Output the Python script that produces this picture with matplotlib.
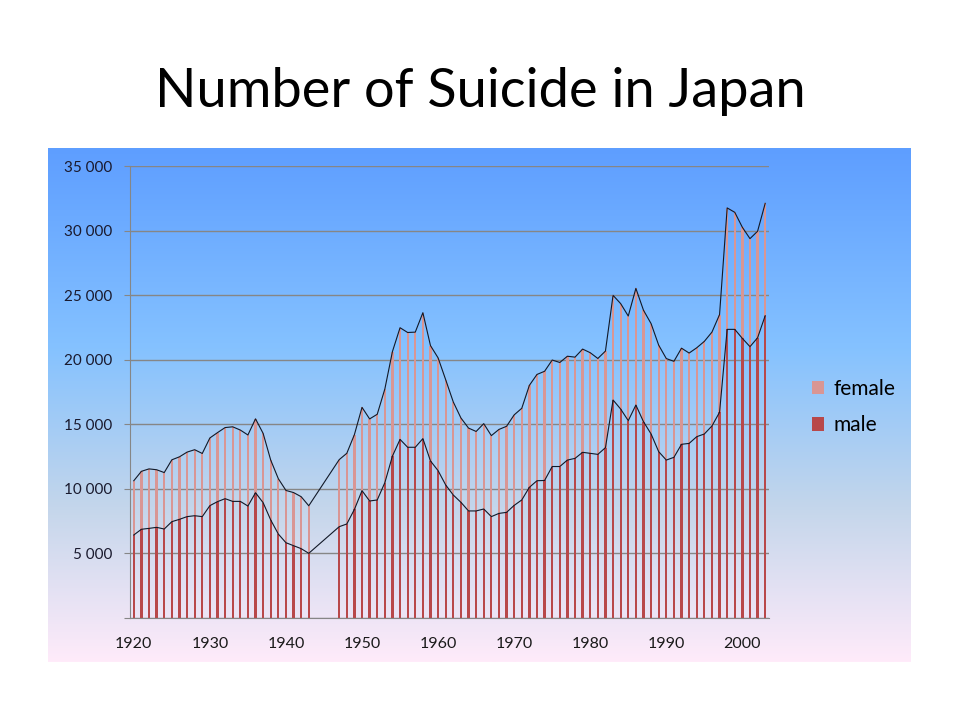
import numpy as np
import matplotlib
matplotlib.use("Agg")
import matplotlib.pyplot as plt
from matplotlib.colors import LinearSegmentedColormap
from matplotlib.ticker import FuncFormatter

plt.rcParams['font.family'] = ['Lato', 'DejaVu Sans']

# years with data (no data for 1944-1946)
years = list(range(1920, 1944)) + list(range(1947, 2004))

# total number of suicides
total = [10630, 11358, 11546, 11480, 11261, 12249, 12480, 12845, 13032, 12740,
         13942, 14353, 14746, 14805, 14554, 14172, 15423, 14295, 12223, 10785,
         9877, 9713, 9393, 8690,
         12262, 12753, 14201,
         16311, 15415, 15776, 17731, 20635, 22477, 22107, 22136, 23641, 21090,
         20143, 18446, 16724, 15490, 14707, 14444, 15050, 14121, 14601, 14844,
         15728, 16239, 18015, 18859, 19105, 19975, 19786, 20269, 20199, 20823,
         20542, 20096, 20668, 24985, 24344, 23383, 25524, 23831, 22795, 21125,
         20088, 19875, 20893, 20516, 20923, 21420, 22138, 23494, 31755, 31413,
         30251, 29375, 29949, 32109]

# male suicides
male = [6430, 6870, 6940, 7020, 6890, 7460, 7640, 7850, 7920, 7850,
        8700, 9010, 9240, 9030, 9030, 8670, 9700, 8930, 7590, 6500,
        5830, 5600, 5370, 5010,
        7070, 7280, 8410,
        9860, 9060, 9140, 10480, 12540, 13830, 13220, 13220, 13890, 12160,
        11410, 10300, 9520, 8960, 8290, 8290, 8440, 7850, 8100, 8180,
        8720, 9140, 10120, 10630, 10650, 11730, 11730, 12230, 12360, 12830,
        12750, 12670, 13190, 16880, 16180, 15280, 16490, 15200, 14250, 12880,
        12230, 12440, 13450, 13520, 14040, 14250, 14870, 15930, 22350, 22350,
        21650, 21010, 21700, 23410]

female = [t - m for t, m in zip(total, male)]

male_color = '#B8484A'
female_color = '#D99694'

fig = plt.figure(figsize=(9.6, 7.2), dpi=100)

# gradient background of the chart area
bg = fig.add_axes([48 / 960, 1 - 662 / 720, 862 / 960, 514 / 720])
cmap = LinearSegmentedColormap.from_list(
    'daybreak', [(0.0, '#5E9EFF'), (0.39, '#85C2FF'), (0.70, '#C4D6EB'), (1.0, '#FFEBFA')])
grad = np.linspace(0, 1, 256).reshape(-1, 1)
bg.imshow(grad, aspect='auto', cmap=cmap, extent=[0, 1, 0, 1])
bg.axis('off')

ax = fig.add_axes([130 / 960, 1 - 618 / 720, 639 / 960, 452 / 720])
ax.set_facecolor('none')

ax.bar(years, male, width=0.3, color=male_color, label='male', zorder=2)
ax.bar(years, female, width=0.3, bottom=male, color=female_color, label='female', zorder=2)
ax.plot(years, total, color='#111827', lw=0.8, zorder=3)
ax.plot(years, male, color='#111827', lw=0.8, zorder=3)

ax.set_xlim(1919.5, 2003.5)
ax.set_ylim(0, 35000)
ax.set_yticks(range(0, 35001, 5000))
ax.yaxis.set_major_formatter(FuncFormatter(
    lambda v, p: '' if v == 0 else f'{int(v):,}'.replace(',', ' ')))
ax.set_xticks(range(1920, 2001, 10))
ax.grid(axis='y', color='#868686', lw=1, zorder=1)

for s in ['top', 'right']:
    ax.spines[s].set_visible(False)
for s in ['left', 'bottom']:
    ax.spines[s].set_color('#868686')
ax.tick_params(axis='y', length=4, color='#868686', labelsize=11, pad=9, labelcolor='#1a1a2e')
ax.tick_params(axis='x', length=0, labelsize=11.5, pad=14, labelcolor='#1a1a1a')

handles, labels = ax.get_legend_handles_labels()
fig.legend(handles[::-1], labels[::-1], loc='center left', bbox_to_anchor=(793 / 960, 1 - 407 / 720),
           frameon=False, fontsize=15, handlelength=0.6, handleheight=0.6,
           handletextpad=0.45, labelspacing=0.8)

fig.text(0.5, 1 - 92 / 720, 'Number of Suicide in Japan', ha='center', va='center', fontsize=39)

fig.savefig('out.png', dpi=100)
